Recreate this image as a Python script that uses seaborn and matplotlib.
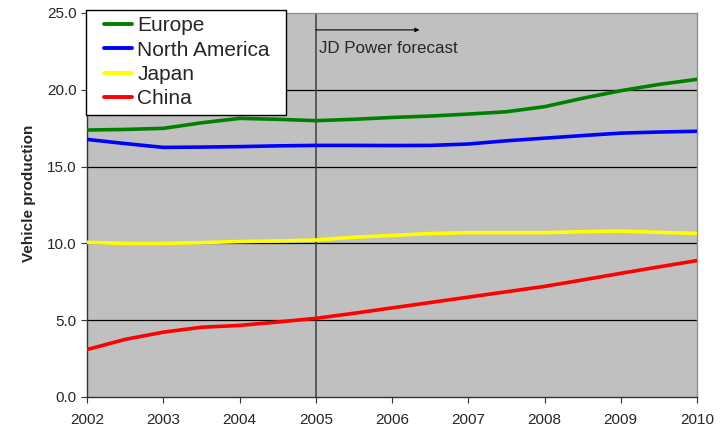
import numpy as np
import pandas as pd
import matplotlib
matplotlib.use("Agg")
import matplotlib.pyplot as plt
import seaborn as sns
from matplotlib.lines import Line2D
from matplotlib.legend_handler import HandlerBase

years = [2002, 2002.5, 2003, 2003.5, 2004, 2004.5, 2005, 2005.5, 2006,
         2006.5, 2007, 2007.5, 2008, 2008.5, 2009, 2009.5, 2010]
europe = [17.38, 17.42, 17.49, 17.85, 18.14, 18.08, 17.99, 18.08, 18.20,
          18.29, 18.42, 18.57, 18.90, 19.45, 19.94, 20.35, 20.68]
north_america = [16.77, 16.50, 16.25, 16.27, 16.30, 16.35, 16.38, 16.38, 16.37,
                 16.38, 16.47, 16.68, 16.85, 17.02, 17.18, 17.25, 17.30]
japan = [10.07, 10.00, 10.00, 10.05, 10.12, 10.16, 10.22, 10.40, 10.52,
         10.64, 10.70, 10.70, 10.70, 10.76, 10.80, 10.72, 10.65]
china = [3.09, 3.75, 4.22, 4.54, 4.66, 4.88, 5.12, 5.45, 5.80,
         6.15, 6.50, 6.85, 7.20, 7.62, 8.05, 8.47, 8.88]
series_names = ["Europe", "North America", "Japan", "China"]
colors = ["#008000", "#0000FF", "#FFFF00", "#FF0000"]
xticks = [2002, 2003, 2004, 2005, 2006, 2007, 2008, 2009, 2010]
yticks = [0, 5, 10, 15, 20, 25]

sns.set_theme(style="white")
plt.rcParams['font.family'] = ['Liberation Sans', 'DejaVu Sans']

rows = []
for name, vals in zip(series_names, [europe, north_america, japan, china]):
    for x, v in zip(years, vals):
        rows.append({"Year": x, "Value": v, "Region": name})
df = pd.DataFrame(rows)

fig = plt.figure(figsize=(7.25, 4.26), dpi=100)
ax = fig.add_axes([87/725, 1-397/426, (697-87)/725, (397-13)/426])
ax.set_facecolor("#C0C0C0")

sns.lineplot(data=df, x="Year", y="Value", hue="Region", hue_order=series_names,
             palette=colors, linewidth=2.6, ax=ax, legend=False, zorder=3)

ax.set_xlim(2002, 2010)
ax.set_ylim(0, 25)
ax.set_xticks(xticks)
ax.set_xticklabels([str(t) for t in xticks], fontsize=11)
ax.set_yticks(yticks)
ax.set_yticklabels([f"{t:.1f}" for t in yticks], fontsize=11)
for y in [5, 10, 15, 20]:
    ax.axhline(y, color="black", lw=0.9, zorder=1)
ax.axvline(2005, color="#404040", lw=1.1, zorder=2)

ax.annotate("", xy=(2006.36, 23.9), xytext=(2005, 23.9),
            arrowprops=dict(arrowstyle="-|>", color="black", lw=0.8,
                            mutation_scale=6, shrinkA=0, shrinkB=0))
ax.text(2005.04, 22.7, "JD Power forecast", fontsize=12.2, va="center", ha="left")

ax.set_xlabel("")
ax.set_ylabel("Vehicle production", fontsize=11, fontweight="bold")
ax.yaxis.set_label_coords(-0.083, 0.53)

for s in ["left", "bottom"]:
    ax.spines[s].set_color("#333333")
    ax.spines[s].set_linewidth(1.0)
for s in ["top", "right"]:
    ax.spines[s].set_color("#909090")
    ax.spines[s].set_linewidth(1.0)
ax.tick_params(axis="both", which="both", direction="out", length=4.5, width=0.8,
               color="#333333", left=True, bottom=True)
ax.tick_params(axis="x", pad=7)
ax.tick_params(axis="y", pad=3)


class OffsetLineHandler(HandlerBase):
    def create_artists(self, legend, orig_handle, xdescent, ydescent, width,
                       height, fontsize, trans):
        y = height / 2 - ydescent
        x0 = -xdescent + width * 0.3
        line = Line2D([x0, -xdescent + width], [y, y],
                      color=orig_handle.get_color(),
                      lw=orig_handle.get_linewidth())
        line.set_transform(trans)
        return [line]


handles = [Line2D([0], [0], color=c, lw=2.8) for c in colors]
leg = fig.legend(handles, series_names, loc="upper left",
                 bbox_to_anchor=(86/725, 1-10/426, (286-86)/725, 0),
                 mode="expand", fontsize=15,
                 handler_map={Line2D: OffsetLineHandler()},
                 frameon=True, fancybox=False, edgecolor="black",
                 framealpha=1, handlelength=1.92, handletextpad=0.24,
                 labelspacing=0.26, borderpad=0.3, borderaxespad=0)
leg.get_frame().set_linewidth(1.0)

fig.savefig("out.png", dpi=100)
